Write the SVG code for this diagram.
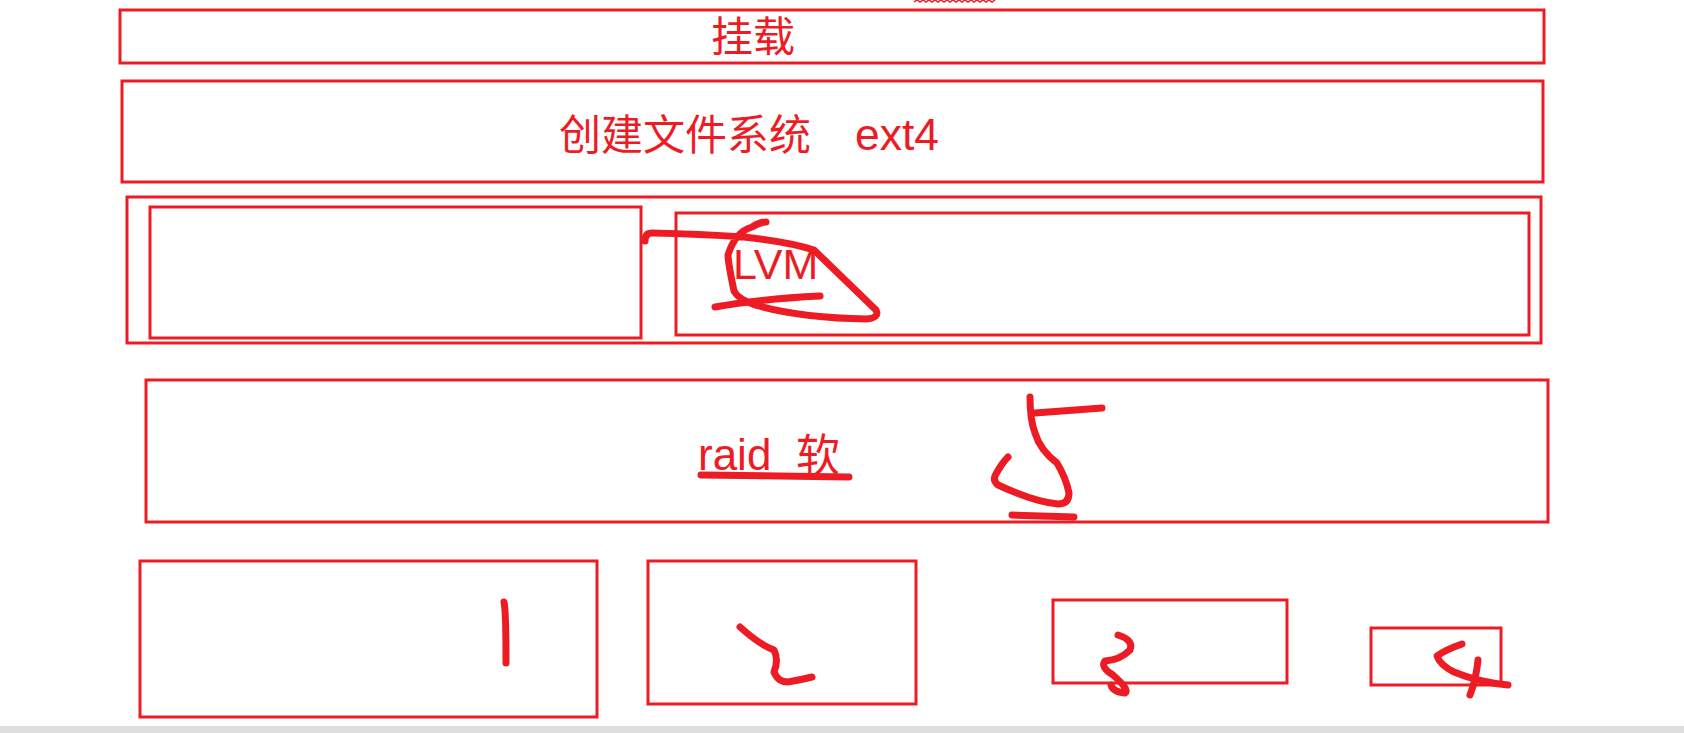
<svg xmlns="http://www.w3.org/2000/svg" width="1684" height="733" viewBox="0 0 1684 733">
<style>
.box{fill:none;stroke:#ED1C24;stroke-width:3}
.ink{fill:none;stroke:#ED1C24;stroke-width:7;stroke-linecap:round;stroke-linejoin:round}
.cjk{font-family:"Noto Sans CJK SC","Noto Sans",sans-serif;fill:#ED1C24}
.lat{font-family:"Liberation Sans","Noto Sans",sans-serif;fill:#ED1C24}
</style>
<rect x="0" y="0" width="1684" height="733" fill="#ffffff"/>
<rect x="0" y="726" width="1684" height="7" fill="#dedede"/>
<g id="squiggle"><path d="M914,2 l3,-2 3,2 3,-2 3,2 3,-2 3,2 3,-2 3,2 3,-2 3,2 3,-2 3,2 3,-2 3,2 3,-2 3,2 3,-2 3,2 3,-2 3,2 3,-2 3,2 3,-2 3,2 3,-2 3,2 3,-2" fill="none" stroke="#ED1C24" stroke-width="1.5"/></g>
<g id="mount">
<rect class="box" x="120" y="10" width="1424" height="53"/>
<text class="cjk" x="753" y="52" font-size="42" text-anchor="middle">挂载</text>
</g>
<g id="mkfs">
<rect class="box" x="122" y="81" width="1421" height="101"/>
<text class="cjk" x="559" y="150" font-size="42">创建文件系统</text>
<text class="lat" x="855" y="150" font-size="45" textLength="84" lengthAdjust="spacingAndGlyphs">ext4</text>
</g>
<g id="lvm">
<rect class="box" x="127" y="197" width="1414" height="146"/>
<rect class="box" x="150" y="207" width="491" height="131"/>
<rect class="box" x="676" y="213" width="853" height="122"/>
<text class="lat" x="733" y="279" font-size="43">LVM</text>
</g>
<g id="raid">
<rect class="box" x="146" y="380" width="1402" height="142"/>
<text class="lat" x="698" y="470" font-size="44">raid</text>
<text class="cjk" x="796" y="471" font-size="44">软</text>
</g>
<g id="disk1"><rect class="box" x="140" y="561" width="457" height="156"/></g>
<g id="disk2"><rect class="box" x="648" y="561" width="268" height="143"/></g>
<g id="disk3"><rect class="box" x="1053" y="600" width="234" height="83"/></g>
<g id="disk4"><rect class="box" x="1371" y="628" width="130" height="57"/></g>
<g id="strokes">
<path class="ink" d="M645,241 Q645,233 652,233 Q700,234 744,237 Q790,242 814,250 Q850,285 876,310 Q880,318 866,319 Q800,318 755,305 Q738,299 734,291 Q728,262 728,255 Q735,232 752,227 Q760,222 766,222"/>
<path class="ink" d="M715,307 Q760,299 820,296"/>
<path class="ink" d="M701,475 Q760,476 849,477"/>
<path class="ink" d="M1030,397 Q1030,420 1035,433 Q1040,450 1057,463 Q1066,478 1069,493 Q1069,504 1058,504 Q1035,502 998,485 Q992,480 996,474 Q1002,463 1008,457"/>
<path class="ink" d="M1035,413 L1102,408"/>
<path class="ink" d="M1012,515 L1074,517" stroke-width="9"/>
<path class="ink" d="M504,602 Q506,610 506,663"/>
<path class="ink" d="M740,627 Q760,645 774,650 Q779,660 774,672 Q778,682 788,682 Q800,680 812,677"/>
<path class="ink" d="M1118,635 Q1134,640 1130,650 Q1120,660 1105,661 Q1100,667 1113,675 Q1130,690 1125,693 Q1113,692 1111,685"/>
<path class="ink" d="M1462,644 Q1445,650 1437,656 Q1440,665 1454,672 Q1478,682 1508,685"/>
<path class="ink" d="M1478,660 Q1476,680 1470,695"/>
</g>
</svg>
